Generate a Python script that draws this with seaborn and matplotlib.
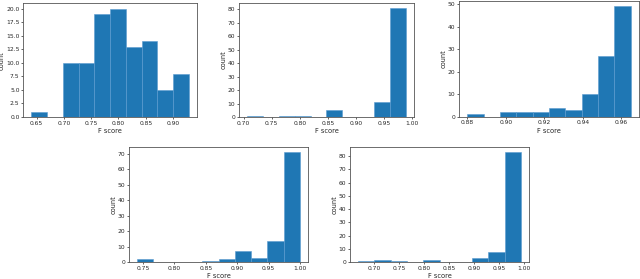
"""Five F-score histograms, three on top and two centred below."""
import matplotlib
matplotlib.use("Agg")
import matplotlib.pyplot as plt
import numpy as np
import pandas as pd
import seaborn as sns
from matplotlib.ticker import MultipleLocator

# bin counts (10 bins each) and the data range each histogram spans
counts_1 = [1, 0, 10, 10, 19, 20, 13, 14, 5, 8]
range_1 = (0.6403, 0.929)

counts_2 = [1, 0, 1, 1, 0, 5, 0, 0, 11, 81]
range_2 = (0.706, 0.989)

counts_3 = [1, 0, 2, 2, 2, 4, 3, 10, 27, 49]
range_3 = (0.880, 0.9649)

counts_4 = [2, 0, 0, 0, 1, 2, 7, 3, 14, 71]
range_4 = (0.7405, 1.0)

counts_5 = [1, 2, 1, 0, 2, 0, 0, 3, 8, 83]
range_5 = (0.668, 0.9933)

# y tick steps, x tick steps
y_steps = [2.5, 10, 10, 10, 10]
x_steps = [0.05, 0.05, 0.02, 0.05, 0.05]

rects = [
    [0.0365, 0.5806, 0.2710, 0.4075],
    [0.3734, 0.5806, 0.2734, 0.4097],
    [0.7172, 0.5817, 0.2810, 0.4158],
    [0.2016, 0.0599, 0.2797, 0.4143],
    [0.5469, 0.0599, 0.2797, 0.4143],
]

panels = [
    (counts_1, range_1),
    (counts_2, range_2),
    (counts_3, range_3),
    (counts_4, range_4),
    (counts_5, range_5),
]

sns.set_style("ticks")
plt.rcParams["font.family"] = ["DejaVu Sans"]

fig = plt.figure(figsize=(6.4, 2.79), dpi=100)

for (counts, (lo, hi)), rect, ys, xs in zip(panels, rects, y_steps, x_steps):
    ax = fig.add_axes(rect)
    edges = np.linspace(lo, hi, len(counts) + 1)
    df = pd.DataFrame({
        "F score": (edges[:-1] + edges[1:]) / 2,
        "n": counts,
    })
    sns.histplot(
        data=df,
        x="F score",
        weights="n",
        bins=edges.tolist(),
        ax=ax,
        color="#1f77b4",
        alpha=1,
        edgecolor="#5b9bd0",
        linewidth=0.4,
    )
    ax.set_xlabel("F score", fontsize=4.8, labelpad=1.5)
    ax.set_ylabel("count", fontsize=4.8, labelpad=1.0)
    ax.tick_params(labelsize=4.3, length=1.5, width=0.5, pad=1.2)
    ax.yaxis.set_major_locator(MultipleLocator(ys))
    ax.xaxis.set_major_locator(MultipleLocator(xs))
    if ys == 2.5:
        ax.yaxis.set_major_formatter("{x:.1f}")
    else:
        ax.yaxis.set_major_formatter("{x:.0f}")
    ax.xaxis.set_major_formatter("{x:.2f}")
    for spine in ax.spines.values():
        spine.set_visible(True)
        spine.set_linewidth(0.6)
        spine.set_color("#555555")
    ax.margins(x=0.05)

fig.savefig("out.png", dpi=100)
